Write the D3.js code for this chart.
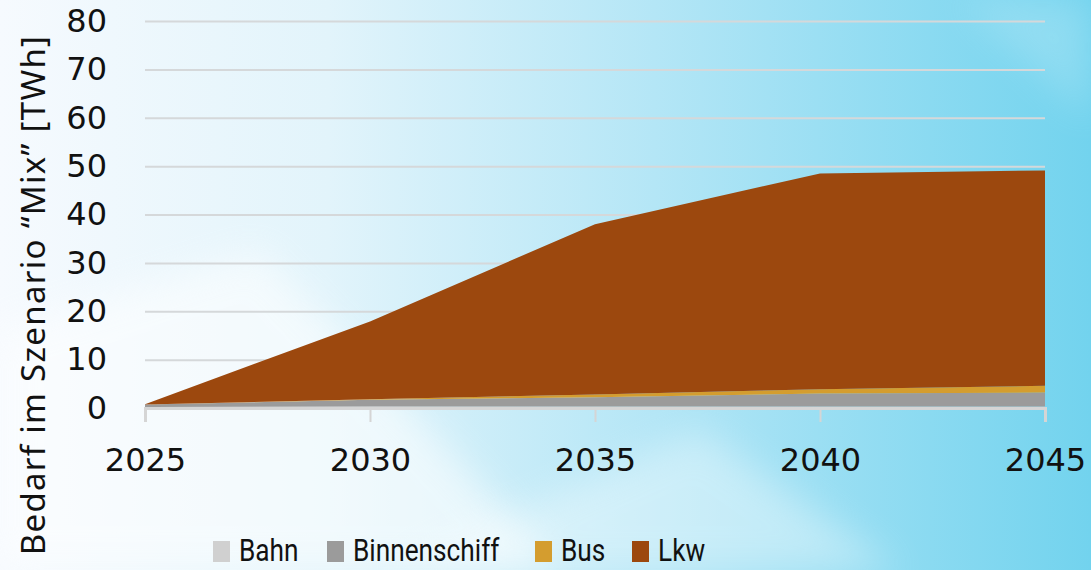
<!DOCTYPE html>
<html>
<head>
<meta charset="utf-8">
<script src="https://cdn.jsdelivr.net/npm/d3@7"></script>
<style>
  html, body { margin: 0; padding: 0; }
  body { width: 1091px; height: 570px; overflow: hidden; }
  svg { display: block; }
</style>
</head>
<body>
<svg id="chart" width="1091" height="570"></svg>
<script>
// Energiebedarf im Güterverkehr, Szenario "Mix" [TWh]
const years = [2025, 2030, 2035, 2040, 2045];
const bahn = [0.2, 0.3, 0.3, 0.3, 0.3];
const binnenschiff = [0.5, 1.4, 1.9, 2.7, 2.9];
const bus = [0.0, 0.1, 0.6, 0.9, 1.4];
const lkw = [0.1, 16.1, 35.2, 44.6, 44.5];
const seriesNames = ["Bahn", "Binnenschiff", "Bus", "Lkw"];
const seriesColors = ["#d0d0d0", "#9b9b9b", "#d49d2f", "#9c480e"];
const yTicks = [0, 10, 20, 30, 40, 50, 60, 70, 80];
const yTitle = "Bedarf im Szenario “Mix” [TWh]";

const rows = years.map((y, i) => ({
  year: y, Bahn: bahn[i], Binnenschiff: binnenschiff[i], Bus: bus[i], Lkw: lkw[i]
}));

const W = 1091, H = 570;
const svg = d3.select("#chart");
const defs = svg.append("defs");

// background: pale left side fading into cyan on the right
const bg = defs.append("linearGradient").attr("id", "bg")
  .attr("x1", "0").attr("y1", "0").attr("x2", "1").attr("y2", "0");
bg.append("stop").attr("offset", "0").attr("stop-color", "#f6fafe");
bg.append("stop").attr("offset", "0.3").attr("stop-color", "#e2f4fb");
bg.append("stop").attr("offset", "0.6").attr("stop-color", "#b4e6f6");
bg.append("stop").attr("offset", "1").attr("stop-color", "#72d3ee");
svg.append("rect").attr("width", W).attr("height", H).attr("fill", "url(#bg)");

const soft = defs.append("filter").attr("id", "soft")
  .attr("x", "-20%").attr("y", "-20%").attr("width", "140%").attr("height", "140%");
soft.append("feGaussianBlur").attr("stdDeviation", 18);

// light diagonal sheens rising from the lower left
svg.append("path")
  .attr("d", "M0,330 L260,250 L560,570 L0,570 Z")
  .attr("fill", "#ffffff").attr("opacity", 0.55).attr("filter", "url(#soft)");
svg.append("path")
  .attr("d", "M380,570 L700,430 L900,570 Z")
  .attr("fill", "#ffffff").attr("opacity", 0.35).attr("filter", "url(#soft)");
svg.append("path")
  .attr("d", "M960,0 L1091,0 L1091,120 Z")
  .attr("fill", "#ffffff").attr("opacity", 0.18).attr("filter", "url(#soft)");

const x = d3.scaleLinear().domain([2025, 2045]).range([145, 1045]);
const y = d3.scaleLinear().domain([0, 80]).range([408, 21]);

// horizontal gridlines
svg.append("g")
  .attr("transform", "translate(145,0)")
  .call(d3.axisLeft(y).tickValues(yTicks).tickSize(-900).tickFormat(""))
  .call(g => g.select(".domain").remove())
  .call(g => g.selectAll("line").attr("stroke", "#d5d8da").attr("stroke-width", 2));

// stacked areas
const stack = d3.stack().keys(seriesNames);
const layers = stack(rows);
const area = d3.area()
  .x(d => x(d.data.year))
  .y0(d => y(d[0]))
  .y1(d => y(d[1]));
svg.append("g").selectAll("path")
  .data(layers)
  .join("path")
  .attr("d", area)
  .attr("fill", (d, i) => seriesColors[i]);

const numFont = "'DejaVu Sans', sans-serif";

// x axis
const xAxis = svg.append("g")
  .attr("transform", "translate(0,408)")
  .call(d3.axisBottom(x).tickValues(years).tickFormat(d3.format("d")).tickSize(14).tickPadding(26));
xAxis.select(".domain").attr("stroke", "#d5d5d5").attr("stroke-width", 3);
xAxis.selectAll(".tick line").attr("stroke", "#d5d5d5").attr("stroke-width", 2);
xAxis.selectAll("text")
  .attr("font-family", numFont).attr("font-size", 32)
  .attr("fill", "#111");

// y axis labels
const yAxis = svg.append("g")
  .attr("transform", "translate(145,0)")
  .call(d3.axisLeft(y).tickValues(yTicks).tickSize(0).tickPadding(38));
yAxis.select(".domain").remove();
yAxis.selectAll("text")
  .attr("font-family", numFont).attr("font-size", 32)
  .attr("fill", "#111");

// y axis title
svg.append("text")
  .attr("transform", "translate(45,295) rotate(-90)")
  .attr("text-anchor", "middle")
  .attr("font-family", "'Noto Sans', sans-serif").attr("font-size", 33)
  .attr("letter-spacing", 1.3)
  .attr("fill", "#111")
  .text(yTitle);

// legend
const legendX = [213, 327, 535, 632];
const legend = svg.append("g").selectAll("g")
  .data(seriesNames)
  .join("g")
  .attr("transform", (d, i) => `translate(${legendX[i]},541)`);
legend.append("rect")
  .attr("width", 17).attr("height", 21)
  .attr("fill", (d, i) => seriesColors[i]);
legend.append("text")
  .attr("transform", "translate(26,20) scale(0.82,1)")
  .attr("font-family", "Roboto, sans-serif").attr("font-size", 32)
  .attr("fill", "#111")
  .text(d => d);
</script>
</body>
</html>
